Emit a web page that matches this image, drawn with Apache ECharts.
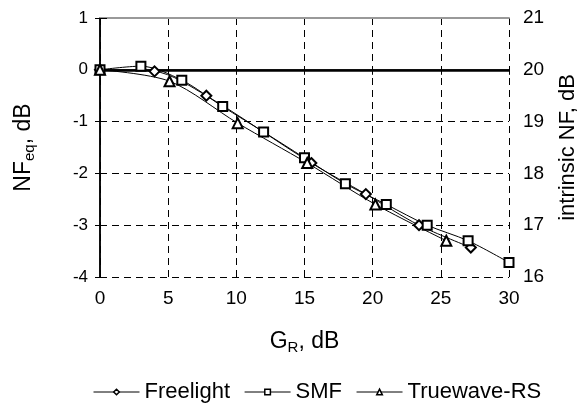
<!DOCTYPE html>
<html lang="en">
<head>
<meta charset="utf-8">
<title>NFeq vs GR</title>
<script src="https://cdn.jsdelivr.net/npm/echarts@6/dist/echarts.min.js"></script>
<style>
body { margin: 0; background: #fff; }
#main { width: 587px; height: 404px; }
</style>
</head>
<body>
<div id="main"></div>
<script>
// data (GR in dB, NFeq in dB)
var freelight = [[0, 0], [4, -0.03], [7.8, -0.5], [15.5, -1.8], [19.5, -2.4], [23.4, -3.0], [27.2, -3.43]];
var smf = [[0, 0], [3, 0.07], [6, -0.2], [9, -0.71], [12, -1.2], [15, -1.7], [18, -2.2], [21, -2.6], [24, -3.0], [27, -3.3], [30, -3.72]];
var truewave = [[0, 0], [5.1, -0.22], [10.1, -1.03], [15.2, -1.8], [20.2, -2.6], [25.4, -3.3]];
var seriesNames = ['Freelight', 'SMF', 'Truewave-RS'];
var symbols = ['diamond', 'rect', 'triangle'];

var font = 'Liberation Sans';

function mkSeries(name, data, sym) {
	return {
		name: name,
		type: 'line',
		data: data,
		smooth: 0.3,
		symbol: sym,
		symbolSize: sym == 'rect' ? 9 : 10,
		showAllSymbol: true,
		lineStyle: { color: '#000', width: 1 },
		itemStyle: { color: '#fff', borderColor: '#000', borderWidth: 2 },
		z: 3
	};
}

var myChart = echarts.init(document.getElementById('main'));

var series = [
	mkSeries(seriesNames[0], freelight, symbols[0]),
	mkSeries(seriesNames[1], smf, symbols[1]),
	mkSeries(seriesNames[2], truewave, symbols[2])
];
// thick reference line at 0 dB
series[0].markLine = {
	silent: true,
	symbol: 'none',
	label: { show: false },
	lineStyle: { color: '#000', width: 2.5, type: 'solid' },
	data: [{ yAxis: 0 }],
	z: 2
};

var option = {
	animation: false,
	textStyle: { fontFamily: font, color: '#000' },
	grid: { left: 100, right: 76, top: 18, bottom: 127 },
	legend: {
		bottom: 1,
		left: 93,
		padding: 0,
		itemWidth: 46,
		itemHeight: 7,
		itemGap: 14,
		itemStyle: { borderWidth: 1.5 },
		lineStyle: { width: 1 },
		textStyle: { fontFamily: font, fontSize: 22, color: '#000' },
		data: seriesNames
	},
	xAxis: [{
		type: 'value',
		min: 0, max: 30, interval: 5,
		name: '{a|G}{s|R}{a|, dB}',
		nameLocation: 'middle',
		nameGap: 52,
		nameTextStyle: {
			rich: {
				a: { fontFamily: font, fontSize: 23, color: '#000' },
				s: { fontFamily: font, fontSize: 15, color: '#000', verticalAlign: 'bottom', padding: [11, 0, 0, 0] }
			}
		},
		axisLine: { lineStyle: { color: '#000', width: 1.5 } },
		axisTick: { inside: false, length: 5, lineStyle: { color: '#000' } },
		axisLabel: { fontFamily: font, fontSize: 19, color: '#000', margin: 12 },
		splitLine: { show: true, lineStyle: { color: '#000', type: [7, 5], width: 1 } }
	}, {
		type: 'value',
		position: 'top',
		min: 0, max: 30,
		axisLine: { show: true, lineStyle: { color: '#999', width: 2 } },
		axisTick: { show: false },
		axisLabel: { show: false },
		splitLine: { show: false }
	}],
	yAxis: [{
		type: 'value',
		min: -4, max: 1, interval: 1,
		name: '{a|NF}{s|eq}{a|, dB}',
		nameLocation: 'middle',
		nameRotate: 90,
		nameGap: 63,
		nameTextStyle: {
			rich: {
				a: { fontFamily: font, fontSize: 23, color: '#000' },
				s: { fontFamily: font, fontSize: 15, color: '#000', verticalAlign: 'bottom', padding: [11, 0, 0, 0] }
			}
		},
		axisLine: { show: true, lineStyle: { color: '#000', width: 1.5 } },
		axisTick: { show: true, inside: false, length: 5, lineStyle: { color: '#000' } },
		axisLabel: { fontFamily: font, fontSize: 17, color: '#000', margin: 12 },
		splitLine: { show: true, lineStyle: { color: '#000', type: [7, 5], width: 1 } }
	}, {
		type: 'value',
		position: 'right',
		min: 16, max: 21, interval: 1,
		name: 'intrinsic NF, dB',
		nameLocation: 'middle',
		nameRotate: 90,
		nameGap: 48,
		nameTextStyle: { fontFamily: font, fontSize: 22, color: '#000' },
		axisLine: { show: true, lineStyle: { color: '#000', width: 1.5 } },
		axisTick: { show: true, inside: false, length: 7, lineStyle: { color: '#000' } },
		axisLabel: { fontFamily: font, fontSize: 19, color: '#000', margin: 14 },
		splitLine: { show: false }
	}],
	series: series
};

myChart.setOption(option);
</script>
</body>
</html>
